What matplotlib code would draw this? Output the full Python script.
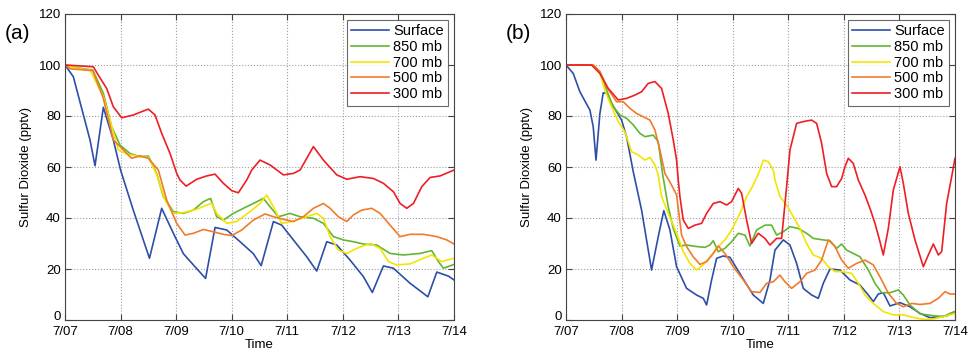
import numpy as np
import matplotlib
matplotlib.use("Agg")
import matplotlib.pyplot as plt

plt.rcParams['font.family'] = ['Liberation Sans', 'DejaVu Sans']

day_labels = ['7/07', '7/08', '7/09', '7/10', '7/11', '7/12', '7/13', '7/14']
series_names = ['Surface', '850 mb', '700 mb', '500 mb', '300 mb']
colors = ['#2D4FA8', '#62B631', '#F3E500', '#F17B2A', '#EE1E25']

# ---- panel (a): (day, value) pairs
a_sfc_t = [0, 0.15, 0.45, 0.54, 0.69, 0.87, 1.0, 1.23, 1.52, 1.74, 1.95, 2.13, 2.31, 2.53, 2.70, 2.91,
           3.15, 3.39, 3.53, 3.75, 3.9, 4.11, 4.35, 4.53, 4.71, 4.89, 5.13, 5.37, 5.53, 5.73, 5.91,
           6.21, 6.53, 6.69, 6.9, 7.0]
a_sfc_v = [100, 95.4, 70.6, 60.5, 83.4, 70.6, 58.8, 43, 24.2, 43.8, 34, 26, 21.6, 16.3, 36.3, 35.3,
           30.7, 26, 21.3, 38.6, 37.2, 31.4, 24.8, 19.2, 30.7, 29.4, 23.5, 17, 10.8, 21.2, 20.3,
           14.4, 9.1, 18.8, 17.2, 15.7]

a_850_t = [0, 0.2, 0.5, 0.69, 0.84, 0.99, 1.17, 1.35, 1.5, 1.65, 1.77, 1.95, 2.13, 2.31, 2.49, 2.62,
           2.73, 2.85, 3.03, 3.21, 3.39, 3.57, 3.69, 3.84, 4.05, 4.23, 4.47, 4.65, 4.83, 5.01, 5.19,
           5.37, 5.61, 5.85, 6.09, 6.39, 6.6, 6.72, 6.81, 7.0]
a_850_v = [100, 99, 98, 88.9, 75.8, 68.6, 65.3, 64, 64.3, 57.4, 48.4, 42.5, 41.8, 43.1, 46.4, 47.7,
           40.5, 39.2, 41.8, 43.8, 45.7, 47.7, 44.4, 40.5, 41.8, 40.5, 39.9, 37.9, 32.7, 31.4, 30.7,
           29.8, 29.4, 26.1, 25.5, 26.1, 27.2, 22.9, 20.3, 21.8]

a_700_t = [0, 0.2, 0.45, 0.69, 0.96, 1.11, 1.35, 1.5, 1.65, 1.8, 1.95, 2.13, 2.37, 2.55, 2.64, 2.73,
           2.91, 3.09, 3.33, 3.51, 3.63, 3.75, 3.9, 4.08, 4.29, 4.53, 4.65, 4.77, 4.92, 5.07, 5.25,
           5.49, 5.67, 5.82, 5.97, 6.21, 6.45, 6.6, 6.78, 7.0]
a_700_v = [100, 98.8, 98, 87.6, 66.7, 65.1, 64, 63.8, 57, 47, 41.8, 42.1, 43.4, 45.1, 45.7, 41.8,
           37.9, 38.6, 42.5, 45.7, 49, 44.4, 37.9, 38.6, 40.1, 41.8, 39.9, 32.7, 27.4, 26.1, 28.1,
           30, 28.1, 22.9, 21.6, 22, 24.2, 25.5, 22.9, 24.2]

a_500_t = [0, 0.1, 0.5, 0.69, 0.87, 1.05, 1.2, 1.35, 1.5, 1.68, 1.83, 2.01, 2.16, 2.31, 2.49, 2.67,
           2.85, 3.0, 3.18, 3.39, 3.6, 3.75, 3.93, 4.11, 4.29, 4.47, 4.65, 4.77, 4.92, 5.07, 5.19,
           5.34, 5.52, 5.67, 5.85, 6.03, 6.21, 6.45, 6.69, 6.87, 7.0]
a_500_v = [100, 98.5, 97.8, 86.9, 70.6, 66.7, 63.4, 64.4, 63.4, 58.8, 47, 37.9, 33.3, 34, 35.5, 34.6,
           33.6, 33.1, 35.3, 39.2, 41.6, 40.5, 39.5, 38.6, 40.5, 43.8, 45.7, 43.8, 40.5, 38.6, 41.2,
           43.1, 43.8, 41.8, 37.2, 32.7, 33.6, 33.6, 32.7, 31.4, 29.8]

a_300_t = [0, 0.3, 0.51, 0.6, 0.75, 0.87, 1.02, 1.23, 1.38, 1.5, 1.62, 1.74, 1.89, 2.01, 2.07, 2.18,
           2.37, 2.55, 2.7, 2.85, 3.0, 3.12, 3.27, 3.36, 3.51, 3.69, 3.93, 4.11, 4.23, 4.47, 4.65,
           4.89, 5.07, 5.31, 5.55, 5.73, 5.91, 6.03, 6.15, 6.27, 6.42, 6.57, 6.75, 7.0]
a_300_v = [100, 99.6, 99.3, 96, 90.8, 83.6, 79.3, 80.4, 81.7, 82.7, 80.4, 73.2, 65.3, 57.5, 54.9, 52.5,
           55.2, 56.5, 57.2, 53.6, 50.7, 49.9, 54.9, 58.8, 62.7, 60.8, 56.9, 57.5, 58.8, 68, 62.7,
           56.9, 55.2, 56.2, 55.5, 53.6, 50.3, 45.7, 43.8, 45.7, 52.3, 55.9, 56.5, 58.8]

# ---- panel (b)
b_sfc_t = [0, 0.13, 0.25, 0.43, 0.49, 0.54, 0.61, 0.67, 0.73, 0.82, 0.91, 1.0, 1.09, 1.21, 1.36, 1.54,
           1.66, 1.76, 1.87, 1.99, 2.17, 2.35, 2.47, 2.53, 2.62, 2.71, 2.83, 2.95, 3.07, 3.22, 3.37,
           3.55, 3.67, 3.76, 3.91, 4.03, 4.15, 4.27, 4.42, 4.54, 4.63, 4.75, 4.93, 5.11, 5.29, 5.44,
           5.53, 5.62, 5.71, 5.83, 6.01, 6.19, 6.37, 6.55, 6.73, 6.85, 7.0]
b_sfc_v = [100, 96.7, 89.5, 82.3, 75.8, 62.7, 81, 89.1, 88.9, 85, 81.7, 78.4, 71.9, 58.2, 43.1, 19.6,
           32.7, 42.9, 35.3, 20.9, 12.4, 9.8, 8.5, 5.9, 15.7, 24.2, 25.1, 24.6, 20.3, 15, 9.8,
           6.5, 15.7, 27.4, 31.4, 29.4, 22.2, 12.4, 9.8, 8.5, 14.4, 20, 19.6, 15.7, 13.7, 9.8,
           7.2, 10.2, 10.7, 5.5, 6.8, 5.2, 2.6, 0.9, 1.3, 1.6, 3.3]

b_850_t = [0, 0.49, 0.61, 0.73, 0.85, 0.97, 1.09, 1.21, 1.33, 1.42, 1.57, 1.66, 1.74, 1.84, 1.93, 2.05,
           2.17, 2.35, 2.5, 2.59, 2.65, 2.74, 2.86, 2.98, 3.1, 3.22, 3.31, 3.43, 3.58, 3.7, 3.79,
           3.91, 4.03, 4.18, 4.33, 4.45, 4.63, 4.75, 4.87, 4.96, 5.05, 5.17, 5.29, 5.44, 5.56, 5.68,
           5.83, 5.98, 6.07, 6.19, 6.37, 6.61, 6.79, 6.91, 7.0]
b_850_v = [100, 100, 97.4, 90.2, 83.6, 80.4, 79.1, 76.5, 73.2, 71.9, 72.5, 69.9, 57, 44.4, 35.9, 29,
           29.4, 28.8, 28.5, 29.4, 31.1, 26.8, 28.1, 30.7, 34, 33.3, 29, 35.3, 37.2, 37.2, 33.3,
           34.6, 36.6, 35.9, 34, 32, 31.4, 31.1, 28.1, 29.8, 27.4, 26.1, 24.8, 19.6, 14.4, 10.7,
           10.7, 11.8, 9.8, 5.9, 2.4, 1.7, 1.3, 2.6, 3.3]

b_700_t = [0, 0.49, 0.61, 0.7, 0.82, 0.94, 1.06, 1.18, 1.3, 1.42, 1.51, 1.6, 1.66, 1.72, 1.84, 1.99,
           2.11, 2.23, 2.35, 2.47, 2.59, 2.71, 2.86, 2.98, 3.13, 3.25, 3.37, 3.49, 3.55, 3.64, 3.73,
           3.76, 3.85, 3.97, 4.09, 4.21, 4.33, 4.45, 4.6, 4.72, 4.84, 4.96, 5.14, 5.26, 5.38, 5.53,
           5.71, 5.89, 6.07, 6.25, 6.43, 6.61, 6.79, 7.0]
b_700_v = [100, 100, 96.7, 90.2, 83.6, 77.8, 73.8, 66, 64.7, 62.7, 63.8, 60.8, 57, 48.4, 41.8, 34,
           26.8, 22.2, 19.6, 21.6, 24.6, 28.1, 31.4, 35.3, 41.8, 48.4, 52.9, 58.8, 62.7, 62.1, 58.8,
           54.9, 48.4, 45.1, 40.5, 35.9, 30, 25.5, 24.2, 20.9, 19, 19, 18.3, 14.4, 9.8, 6.5,
           3.3, 2, 2, 1, 0.3, 0.4, 1.3, 2.6]

b_500_t = [0, 0.49, 0.61, 0.73, 0.82, 0.91, 1.03, 1.15, 1.27, 1.39, 1.51, 1.6, 1.69, 1.78, 1.9, 1.99,
           2.08, 2.17, 2.29, 2.41, 2.53, 2.65, 2.74, 2.86, 3.01, 3.19, 3.34, 3.49, 3.61, 3.73, 3.85,
           3.94, 4.06, 4.21, 4.33, 4.48, 4.6, 4.72, 4.84, 4.96, 5.08, 5.23, 5.38, 5.53, 5.68, 5.8,
           5.95, 6.07, 6.22, 6.37, 6.55, 6.7, 6.82, 6.91, 7.0]
b_500_v = [100, 100, 97.4, 91.5, 88.5, 85.6, 85.6, 83, 81, 79.7, 78.4, 74.5, 66.7, 57.5, 52.9, 49,
           33.3, 28.8, 24.8, 21.8, 22.9, 26.1, 29, 26.1, 20.9, 15.7, 11.1, 10.8, 14.4, 15, 17.6,
           15, 12.4, 15, 18.3, 19.6, 23.5, 31.4, 28.8, 23.5, 20.3, 22.2, 23.5, 21.6, 15.7, 10.5,
           6.5, 5.2, 6.5, 6.1, 6.5, 8.5, 11.1, 10.2, 10.2]

b_300_t = [0, 0.46, 0.61, 0.76, 0.94, 1.09, 1.24, 1.36, 1.48, 1.6, 1.72, 1.84, 1.93, 1.99, 2.02, 2.05,
           2.11, 2.2, 2.32, 2.44, 2.53, 2.65, 2.77, 2.89, 2.98, 3.1, 3.16, 3.25, 3.34, 3.46, 3.58,
           3.67, 3.79, 3.88, 3.97, 4.03, 4.15, 4.27, 4.42, 4.51, 4.6, 4.69, 4.78, 4.87, 4.96, 5.02,
           5.08, 5.17, 5.26, 5.38, 5.47, 5.56, 5.65, 5.71, 5.8, 5.89, 6.01, 6.07, 6.16, 6.28, 6.43,
           6.52, 6.61, 6.7, 6.76, 6.85, 6.94, 7.0]
b_300_v = [100, 100, 96.7, 90.8, 86.3, 86.9, 88.2, 89.5, 92.8, 93.5, 90.8, 81, 70.6, 62.7, 54.9, 48.4,
           39.2, 35.9, 37.2, 37.9, 41.8, 45.7, 46.4, 45.1, 46.4, 51.6, 49.7, 39.2, 30, 34, 32,
           29.4, 32, 32, 52.3, 66.7, 77.1, 77.8, 78.4, 77.1, 69.3, 57.5, 52.3, 52.3, 55.5, 60.1,
           63.4, 61.4, 54.9, 49, 43.8, 37.9, 30.7, 25.5, 35.9, 51, 60.1, 53.6, 41.8, 31.4, 20.9,
           25.5, 29.8, 25.5, 26.8, 45.7, 56.2, 63.4]

panel_a = [(a_sfc_t, a_sfc_v), (a_850_t, a_850_v), (a_700_t, a_700_v), (a_500_t, a_500_v), (a_300_t, a_300_v)]
panel_b = [(b_sfc_t, b_sfc_v), (b_850_t, b_850_v), (b_700_t, b_700_v), (b_500_t, b_500_v), (b_300_t, b_300_v)]

fig = plt.figure(figsize=(9.69, 3.54), dpi=100)
ax_a = fig.add_axes([65/969, 1-320/354, 389/969, 306/354])
ax_b = fig.add_axes([566/969, 1-320/354, 389/969, 306/354])

for ax, data, tag in [(ax_a, panel_a, '(a)'), (ax_b, panel_b, '(b)')]:
    for (t, v), name, c in zip(data, series_names, colors):
        ax.plot(t, v, color=c, lw=1.2, label=name)
    ax.set_xlim(0, 7)
    ax.set_ylim(0, 120)
    ax.set_xticks(range(8))
    ax.set_xticklabels(day_labels)
    ax.set_yticks(range(0, 121, 20))
    ax.grid(True, linestyle=':', color='#a0a0a0', lw=0.8)
    ax.tick_params(direction='in', top=True, right=True, labelsize=9.5, length=4, color='#444444')
    ax.tick_params(axis='x', pad=4)
    ax.tick_params(axis='y', pad=3)
    # the zero label sits on the axis line, clear of the first date
    ax.get_yticklabels()[0].set_verticalalignment('baseline')
    for s in ax.spines.values():
        s.set_color('#444444')
        s.set_linewidth(0.8)
    ax.set_xlabel('Time', fontsize=9.5, labelpad=1)
    ax.set_ylabel('Sulfur Dioxide (pptv)', fontsize=9.5, labelpad=5)
    leg = ax.legend(loc='upper right', fontsize=10.5, frameon=True, fancybox=False,
                    borderpad=0.3, labelspacing=0.12, handlelength=2.6, handletextpad=0.3,
                    borderaxespad=0.4)
    leg.get_frame().set_edgecolor('#444444')
    leg.get_frame().set_linewidth(0.8)
    fig.text(ax.get_position().x0 - 60/969, 0.905, tag, fontsize=15, ha='left', va='center')

fig.savefig('out.png', dpi=100)
